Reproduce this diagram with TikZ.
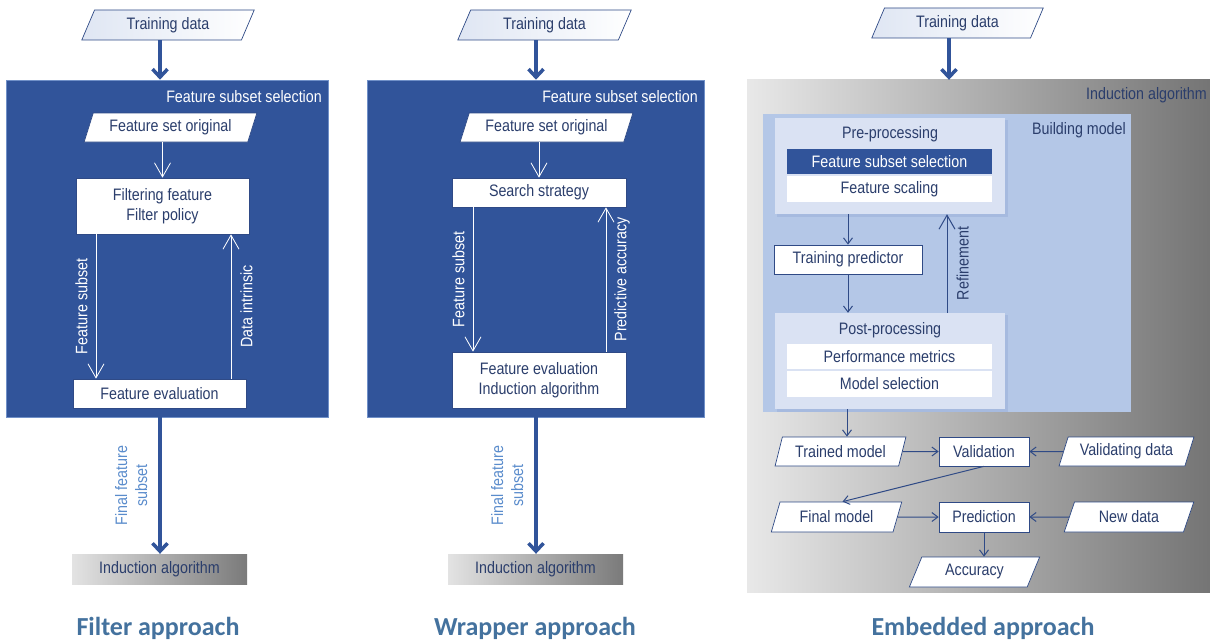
\documentclass[tikz,border=0pt]{standalone}
\usepackage{fontspec}
\setmainfont{Liberation Sans}[FakeStretch=0.86]
\newfontfamily\titlefont{Carlito}
\usetikzlibrary{shapes.geometric,arrows.meta,calc}
\definecolor{dkblue}{HTML}{31549A}
\definecolor{txt}{HTML}{2B3E6C}
\definecolor{boxline}{HTML}{2F4A86}
\definecolor{panelline}{HTML}{7090C8}
\definecolor{lblue}{HTML}{5A8CCC}
\definecolor{titleblue}{HTML}{44729E}
\definecolor{bmblue}{HTML}{B4C7E7}
\definecolor{ppblue}{HTML}{DAE2F3}
\definecolor{shadowblue}{HTML}{A6BADF}
\definecolor{tdleft}{HTML}{DFE6F3}
\begin{document}
\begin{tikzpicture}[x=1pt,y=-1pt,
  base/.style={font=\fontsize{16.6}{20}\selectfont, text=txt, inner sep=0pt, align=center},
  box/.style={base, rectangle, draw=boxline, fill=white, line width=0.7pt},
  para/.style={base, trapezium, trapezium left angle=65, trapezium right angle=115,
     trapezium stretches=true, draw=boxline, fill=white, line width=0.7pt, minimum height=29pt},
  tdpara/.style={para, left color=tdleft, right color=white, minimum height=30pt},
  panel/.style={rectangle, fill=dkblue, draw=panelline, line width=0.6pt, inner sep=0pt},
  graybox/.style={base, rectangle, left color=black!11, right color=black!52, minimum height=30pt},
  band/.style={base, rectangle, fill=white, minimum width=205pt},
  wlbl/.style={base, text=white, inner sep=4pt},
  bigarr/.style={draw=dkblue, line width=3.5pt, -{Straight Barb[length=8pt,width=15pt]}},
  warr/.style={draw=white, line width=0.8pt, -{Straight Barb[length=14pt,width=16pt]}},
  sarr/.style={draw=boxline, line width=1pt, -{Straight Barb[length=6pt,width=9pt]}},
  rarr/.style={draw=boxline, line width=1pt, -{Straight Barb[length=14pt,width=16pt]}},
  title/.style={font=\titlefont\bfseries\fontsize{26}{30}\selectfont, text=titleblue, inner sep=0pt}
]
\clip (0,0) rectangle (1210,642);
\fill[white] (0,0) rectangle (1210,642);

% ================= Filter approach =================
\node[tdpara, minimum width=174pt] (td1) at (168,25) {Training data};
\node[panel, minimum width=322pt, minimum height=337pt] (p1) at (167,248.5) {};
\coordinate (a1) at (160,0);
\draw[bigarr] (td1.south -| a1) -- (p1.north -| a1);
\node[wlbl, anchor=east] (fss1) at (326,97) {Feature subset selection};
\node[para, minimum width=173pt] (fso1) at (170.5,127.5) {Feature set original};
\node[box, minimum width=173pt, minimum height=56pt] (ff1) at (162.5,206) {Filtering feature\\Filter policy};
\node[box, minimum width=173pt, minimum height=29pt] (fe1) at (159.5,393.5) {Feature evaluation};
\node[graybox, minimum width=175pt] (ia1) at (159.5,569) {Induction algorithm};
\draw[warr] (fso1.south -| ff1) -- (ff1.north);
\coordinate (c1) at (96,0);
\coordinate (d1) at (231,0);
\draw[warr] (ff1.south -| c1) -- (fe1.north -| c1)
  node[midway, wlbl, rotate=90, anchor=south, inner sep=8pt] {Feature subset};
\draw[warr] (fe1.north -| d1) -- (ff1.south -| d1)
  node[midway, wlbl, rotate=90, anchor=north, inner sep=9pt] {Data intrinsic};
\draw[bigarr] (p1.south -| a1) -- (ia1.north -| a1)
  node[midway, base, text=lblue, rotate=90, anchor=south, inner sep=11pt] {Final feature\\subset};
\node[title] (t1) at (158,628) {Filter approach};

% ================= Wrapper approach =================
\node[tdpara, minimum width=175pt] (td2) at (544.5,25) {Training data};
\node[panel, minimum width=337pt, minimum height=337pt] (p2) at (535.5,248.5) {};
\coordinate (a2) at (536,0);
\draw[bigarr] (td2.south -| a2) -- (p2.north -| a2);
\node[wlbl, anchor=east] (fss2) at (702,97) {Feature subset selection};
\node[para, minimum width=173pt] (fso2) at (546.5,127.5) {Feature set original};
\node[box, minimum width=174pt, minimum height=29pt] (ss2) at (539,192.5) {Search strategy};
\node[box, minimum width=174pt, minimum height=56pt] (fe2) at (539,380) {Feature evaluation\\Induction algorithm};
\node[graybox, minimum width=175pt] (ia2) at (535.5,569) {Induction algorithm};
\draw[warr] (fso2.south -| ss2) -- (ss2.north);
\coordinate (c2) at (473,0);
\coordinate (d2) at (606,0);
\draw[warr] (ss2.south -| c2) -- (fe2.north -| c2)
  node[midway, wlbl, rotate=90, anchor=south, inner sep=8pt] {Feature subset};
\draw[warr] (fe2.north -| d2) -- (ss2.south -| d2)
  node[midway, wlbl, rotate=90, anchor=north, inner sep=8pt] {Predictive accuracy};
\draw[bigarr] (p2.south -| a2) -- (ia2.north -| a2)
  node[midway, base, text=lblue, rotate=90, anchor=south, inner sep=11pt] {Final feature\\subset};
\node[title] (t2) at (535,628) {Wrapper approach};

% ================= Embedded approach =================
\node[tdpara, minimum width=173pt, minimum height=30pt] (td3) at (957.5,23) {Training data};
\node[rectangle, left color=black!9, right color=black!55, inner sep=0pt,
      minimum width=470pt, minimum height=512pt] (p3) at (982,336) {};
\coordinate (a3) at (949,0);
\draw[bigarr] (td3.south -| a3) -- (p3.north -| a3);
\node[base, anchor=east] (ialg) at (1207,95) {Induction algorithm};
\node[rectangle, fill=bmblue, inner sep=0pt, minimum width=368pt, minimum height=298pt] (bm) at (947,263) {};
\node[base, anchor=east] (bml) at (1126,130) {Building model};
% pre-processing
\fill[shadowblue] (777,120) rectangle (1008,217);
\node[rectangle, fill=ppblue, inner sep=0pt, minimum width=230pt, minimum height=96pt] (pre) at (890,166) {};
\node[base] (prel) at (890,134) {Pre-processing};
\node[band, fill=dkblue, text=white, minimum height=25pt] (fss3) at (889.5,161.5) {Feature subset selection};
\node[band, minimum height=26pt] (fsc3) at (889.5,189) {Feature scaling};
% training predictor
\node[box, minimum width=148pt, minimum height=29pt] (tp) at (848,259.5) {Training predictor};
% post-processing
\fill[shadowblue] (777,315) rectangle (1008,412);
\node[rectangle, fill=ppblue, inner sep=0pt, minimum width=230pt, minimum height=96pt] (post) at (890,361) {};
\node[base] (postl) at (890,330) {Post-processing};
\node[band, minimum height=25pt] (pm3) at (889.5,356.5) {Performance metrics};
\node[band, minimum height=26pt] (ms3) at (889.5,384) {Model selection};
\draw[sarr] (pre.south -| tp) -- (tp.north);
\draw[sarr] (tp.south) -- (post.north -| tp);
\coordinate (r3) at (947,0);
\draw[rarr] (post.north -| r3) -- (pre.south -| r3)
  node[midway, base, rotate=90, anchor=north, inner sep=9pt] {Refinement};
% bottom flow
\node[para, minimum width=131pt] (tm) at (840.5,451.5) {Trained model};
\node[box, minimum width=90pt, minimum height=29pt] (val) at (984,451.5) {Validation};
\node[para, minimum width=135pt] (vd) at (1126.5,451.5) {Validating data};
\node[para, minimum width=131pt, minimum height=30pt] (fm) at (836.5,517) {Final model};
\node[box, minimum width=90pt, minimum height=30pt] (pred) at (984,517) {Prediction};
\node[para, minimum width=130pt, minimum height=30pt] (nd) at (1129,517) {New data};
\node[para, minimum width=131pt, minimum height=30pt] (acc) at (974.5,572) {Accuracy};
\coordinate (q3) at (847,0);
\draw[sarr] (post.south -| q3) -- (tm.north -| q3);
\draw[sarr] (tm.east) -- (val.west);
\draw[sarr] (vd.west) -- (val.east);
\draw[sarr] (val.south) -- ($(fm.north)+(6,0)$);
\draw[sarr] (fm.east) -- (pred.west);
\draw[sarr] (nd.west) -- (pred.east);
\draw[sarr] (pred.south) -- (acc.north -| pred);
\node[title] (t3) at (983,628) {Embedded approach};
\end{tikzpicture}
\end{document}
